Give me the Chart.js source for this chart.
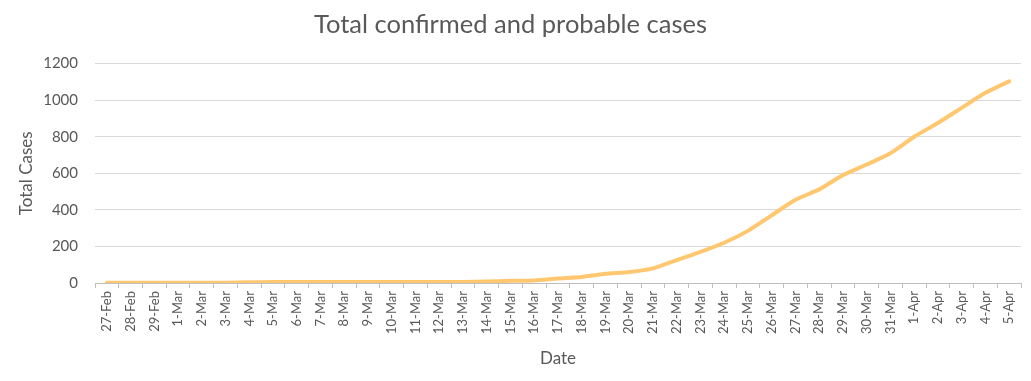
<!DOCTYPE html>
<html>
<head>
<meta charset="utf-8">
<script src="https://cdn.jsdelivr.net/npm/chart.js@4"></script>
<style>
  html, body { margin: 0; padding: 0; background: #fff; }
  #wrap { width: 1031px; height: 381px; }
</style>
</head>
<body>
<div id="wrap"><canvas id="casesChart" width="1031" height="381"></canvas></div>
<script>
// dates on the x axis
const dates = ['27-Feb', '28-Feb', '29-Feb',
  '1-Mar', '2-Mar', '3-Mar', '4-Mar', '5-Mar', '6-Mar', '7-Mar', '8-Mar', '9-Mar', '10-Mar',
  '11-Mar', '12-Mar', '13-Mar', '14-Mar', '15-Mar', '16-Mar', '17-Mar', '18-Mar', '19-Mar', '20-Mar',
  '21-Mar', '22-Mar', '23-Mar', '24-Mar', '25-Mar', '26-Mar', '27-Mar', '28-Mar', '29-Mar', '30-Mar',
  '31-Mar', '1-Apr', '2-Apr', '3-Apr', '4-Apr', '5-Apr'];

// total confirmed + probable
const totalCases = [1, 1, 1,
  1, 1, 2, 4, 5, 5, 5, 5, 5, 5,
  5, 5, 6, 8, 12, 14, 25, 33, 50, 60,
  80, 125, 170, 220, 285, 370, 455, 512, 590, 648,
  710, 800, 875, 958, 1040, 1103];

const yTicks = [0, 200, 400, 600, 800, 1000, 1200];

const textColor = '#595959';
const fontName = 'Lato, "Open Sans", sans-serif';

let ctx = document.getElementById('casesChart').getContext('2d');
let chart = new Chart(ctx, {
    type: 'line',
    data: {
        labels: dates,
        datasets: [{
            label: 'Total Cases',
            data: totalCases,
            borderColor: '#ffc870',
            borderWidth: 4,
            pointRadius: 0,
            tension: 0.2,
            borderCapStyle: 'round',
            borderJoinStyle: 'round',
            fill: false
        }]
    },
    options: {
        responsive: false,
        animation: false,
        layout: { padding: { left: 0, right: 10, top: 0, bottom: 0 } },
        plugins: {
            legend: { display: false },
            tooltip: { enabled: false },
            title: {
                display: true,
                text: 'Total confirmed and probable cases',
                color: textColor,
                font: { family: fontName, size: 25.5, weight: 'normal' },
                padding: { top: 9, bottom: 24 }
            }
        },
        scales: {
            x: {
                offset: true,
                grid: {
                    offset: true,
                    drawOnChartArea: false,
                    color: '#bfbfbf',
                    tickLength: 5
                },
                border: { color: '#bfbfbf' },
                ticks: {
                    autoSkip: false,
                    minRotation: 90,
                    maxRotation: 90,
                    color: textColor,
                    font: { family: fontName, size: 13 },
                    padding: 3
                },
                title: {
                    display: true,
                    text: 'Date',
                    color: textColor,
                    font: { family: fontName, size: 17 },
                    padding: { top: 0, bottom: 12 }
                },
                afterFit: function(scale) { scale.height = 98; }
            },
            y: {
                min: 0,
                max: 1200,
                afterBuildTicks: function(scale) {
                    scale.ticks = yTicks.map(v => ({ value: v }));
                },
                grid: {
                    color: '#d9d9d9',
                    drawTicks: false
                },
                border: { display: false },
                ticks: {
                    color: textColor,
                    font: { family: fontName, size: 15 },
                    padding: 17,
                    callback: function(value) { return String(value); }
                },
                title: {
                    display: true,
                    text: 'Total Cases',
                    color: textColor,
                    font: { family: fontName, size: 17 },
                    padding: { top: 16, bottom: 0 }
                },
                afterFit: function(scale) { scale.width = 95; }
            }
        }
    }
});
</script>
</body>
</html>
